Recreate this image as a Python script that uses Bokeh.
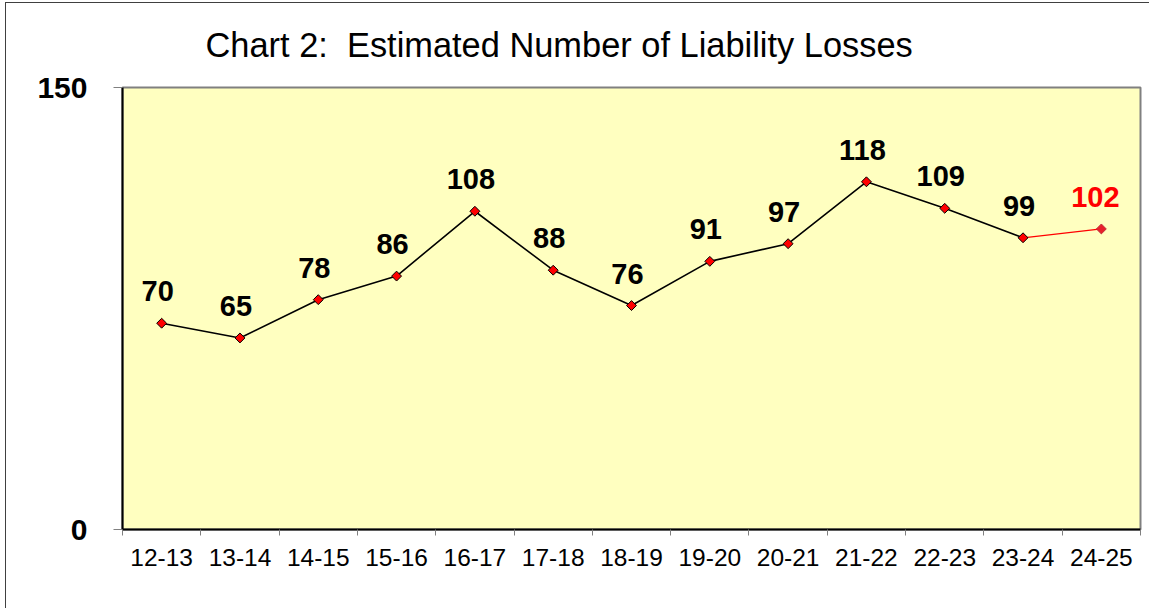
from bokeh.plotting import figure
from bokeh.models import Range1d, FixedTicker, Title, ColumnDataSource
from bokeh.core.properties import value
from bokeh.embed import file_html
from bokeh.resources import INLINE
import math

categories = ["12-13", "13-14", "14-15", "15-16", "16-17", "17-18", "18-19",
              "19-20", "20-21", "21-22", "22-23", "23-24", "24-25"]
actual = [70, 65, 78, 86, 108, 88, 76, 91, 97, 118, 109, 99]
projected = [102]
y_ticks = [0, 150]
title_text = "Chart 2:\u00a0 Estimated Number of Liability Losses"

FONT = "Liberation Sans"

n = len(categories)
xs = [i + 0.5 for i in range(n)]
x_act = xs[:len(actual)]
x_proj = xs[len(actual):len(actual) + len(projected)]

p = figure(width=1144, height=606, output_backend="svg", toolbar_location=None,
           x_range=Range1d(0, n), y_range=Range1d(y_ticks[0], y_ticks[-1]),
           min_border_left=116, min_border_right=10, min_border_top=84,
           min_border_bottom=80, margin=(2, 0, 0, 5))
p.styles = {"border-left": "1px solid #404040", "border-top": "1px solid #404040"}

p.background_fill_color = "#FFFFC0"
p.border_fill_color = "white"
p.outline_line_color = "#808080"
p.outline_line_width = 2
p.xgrid.visible = False
p.ygrid.visible = False

t = Title(text=title_text, align="left", offset=83, standoff=43,
          vertical_align="top",
          text_font=FONT, text_font_size="34.4px", text_font_style="normal",
          text_color="black")
p.add_layout(t, "above")

# x axis: labels at centers, tick marks at boundaries
p.xaxis.ticker = FixedTicker(ticks=xs, minor_ticks=list(range(n + 1)))
p.xaxis.major_label_overrides = {x: c for x, c in zip(xs, categories)}
p.xaxis.major_tick_line_color = None
p.xaxis.major_tick_out = 0
p.xaxis.major_tick_in = 0
p.xaxis.minor_tick_line_color = "#808080"
p.xaxis.minor_tick_out = 6
p.xaxis.minor_tick_in = 0
p.xaxis.axis_line_color = "black"
p.xaxis.axis_line_width = 2
p.xaxis.major_label_text_font = FONT
p.xaxis.major_label_text_font_size = "24.5px"
p.xaxis.major_label_text_color = "black"
p.xaxis.major_label_standoff = 13

p.yaxis.ticker = FixedTicker(ticks=y_ticks, minor_ticks=[])
p.yaxis.major_tick_line_color = "#808080"
p.yaxis.major_tick_out = 9
p.yaxis.major_tick_in = 0
p.yaxis.axis_line_color = "black"
p.yaxis.axis_line_width = 2
p.yaxis.major_label_text_font = FONT
p.yaxis.major_label_text_font_size = "30px"
p.yaxis.major_label_text_font_style = "bold"
p.yaxis.major_label_text_color = "black"
p.yaxis.major_label_standoff = 26

# projected segment (last actual -> projected)
p.line([x_act[-1]] + x_proj, [actual[-1]] + projected, line_color="red", line_width=1.2)
p.line(x_act, actual, line_color="black", line_width=1.6)

p.scatter(x_act, actual, marker="square", angle=math.pi / 4, size=7,
          fill_color="red", line_color="black", line_width=1)
p.scatter(x_proj, projected, marker="square", angle=math.pi / 4, size=7,
          fill_color="#E8202A", line_color="#C0303C", line_width=1)

src_a = ColumnDataSource(dict(x=x_act, y=actual, t=[str(v) for v in actual]))
src_p = ColumnDataSource(dict(x=x_proj, y=projected, t=[str(v) for v in projected]))
p.text(x="x", y="y", text="t", source=src_a, x_offset=-4, y_offset=-32,
       text_align="center", text_baseline="alphabetic", text_font=value(FONT),
       text_font_size="29px", text_font_style="bold", text_color="black")
p.text(x="x", y="y", text="t", source=src_p, x_offset=-6, y_offset=-32,
       text_align="center", text_baseline="alphabetic", text_font=value(FONT),
       text_font_size="29px", text_font_style="bold", text_color="red")

open("out.html", "w").write(file_html(p, INLINE))
